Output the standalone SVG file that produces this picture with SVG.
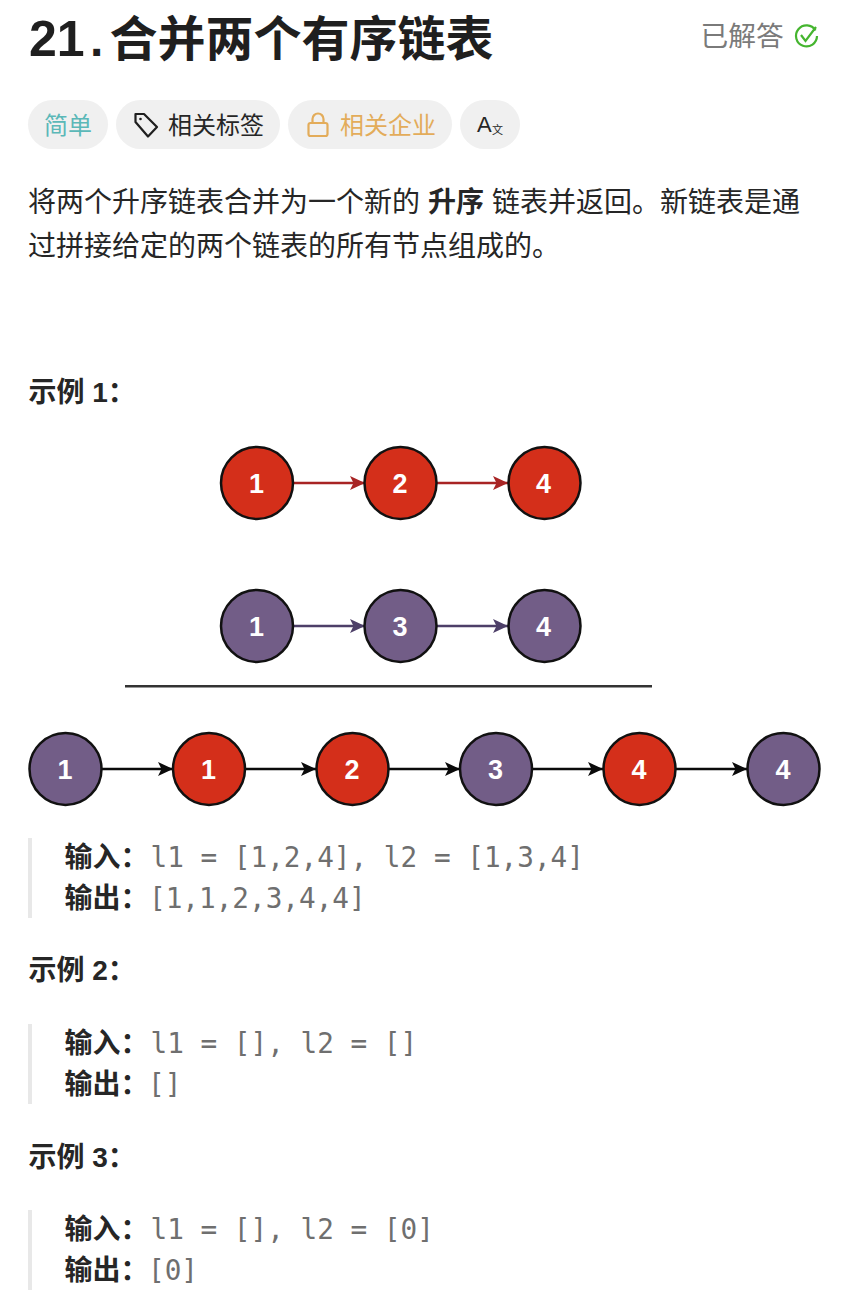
<svg xmlns="http://www.w3.org/2000/svg" width="844" height="1290" viewBox="0 0 844 1290">
<style>
text{font-family:"Liberation Sans","Noto Sans CJK SC",sans-serif;fill:#262626}
.t{font-size:28px}
.b{font-size:28px;font-weight:700}
.m{font-family:"DejaVu Sans Mono","Noto Sans CJK SC",monospace;font-size:27.7px;fill:#6f6f6f}
.pill{fill:#f0f0f0}
.p{font-size:24px}
.bar{fill:#e8e8e8}
.red circle{fill:#d42f1a;stroke:#111;stroke-width:2.5}
.pur circle{fill:#725d87;stroke:#111;stroke-width:2.5}
.n{font-size:27px;font-weight:700;fill:#fff;text-anchor:middle}
.cr{stroke:#a82424;stroke-width:2.5;fill:none;marker-end:url(#ar)}
.cp{stroke:#4d3f68;stroke-width:2.5;fill:none;marker-end:url(#ap)}
.ck{stroke:#0a0a0a;stroke-width:2.5;fill:none;marker-end:url(#ak)}
</style>
<defs>
<marker id="ar" markerUnits="userSpaceOnUse" markerWidth="16" markerHeight="16" refX="15" refY="8" orient="auto"><path d="M0 1L15 8L0 15L3.500 8Z" fill="#a82424"/></marker>
<marker id="ap" markerUnits="userSpaceOnUse" markerWidth="16" markerHeight="16" refX="15" refY="8" orient="auto"><path d="M0 1L15 8L0 15L3.500 8Z" fill="#4d3f68"/></marker>
<marker id="ak" markerUnits="userSpaceOnUse" markerWidth="16" markerHeight="16" refX="15" refY="8" orient="auto"><path d="M0 1L15 8L0 15L3.500 8Z" fill="#0a0a0a"/></marker>
</defs>
<rect width="844" height="1290" fill="#fff"/>
<g id="header">
<text x="29" y="56" font-size="50" font-weight="700" style="fill:#1f1f1f">21</text>
<text x="90" y="56" font-size="48" font-weight="700" style="fill:#1f1f1f">.</text>
<text x="109.500" y="56" font-size="48" font-weight="700" style="fill:#1f1f1f">合并两个有序链表</text>
<text x="700.500" y="46" font-size="27.700" style="fill:#7a7a7a">已解答</text>
<path d="M815.500 30.500A10.500 10.500 0 1 0 817 36" fill="none" stroke="#45b52f" stroke-width="2.200"/>
<path d="M801 35L805.500 41L816 27" fill="none" stroke="#45b52f" stroke-width="2.200"/>
</g>
<g id="tags">
<rect class="pill" x="28" y="100" width="80" height="49" rx="24.500"/>
<text class="p" x="44" y="134" style="fill:#5bb8b8">简单</text>
<rect class="pill" x="116" y="100" width="164" height="49" rx="24.500"/>
<path d="M135.500 114V122L148 136.500L157 127L144 114Z" fill="none" stroke="#1f1f1f" stroke-width="2.200" stroke-linejoin="round"/>
<circle cx="140.500" cy="119" r="1.300" fill="#1f1f1f"/>
<text class="p" x="168" y="134">相关标签</text>
<rect class="pill" x="288" y="100" width="164" height="49" rx="24.500"/>
<rect x="308.500" y="123" width="19" height="13" rx="2" fill="none" stroke="#e3ac5a" stroke-width="2.200"/>
<path d="M312.500 123V119A5.500 5.500 0 0 1 323.500 119V123" fill="none" stroke="#e3ac5a" stroke-width="2.200"/>
<text class="p" x="340" y="134" style="fill:#e3ac5a">相关企业</text>
<rect class="pill" x="460" y="100" width="60" height="49" rx="24.500"/>
<text x="477" y="132" font-size="22">A</text>
<text x="492" y="134" font-size="11">文</text>
</g>
<g id="description">
<text class="t" x="28" y="212">将两个升序链表合并为一个新的</text>
<text class="b" x="428" y="212">升序</text>
<text class="t" x="492" y="212">链表并返回。新链表是通</text>
<text class="t" x="28" y="256">过拼接给定的两个链表的所有节点组成的。</text>
</g>
<text class="b" x="28.500" y="402">示例 1：</text>
<g id="connectors">
<path class="cr" d="M293 483H365"/><path class="cr" d="M437 483H508"/>
<path class="cp" d="M293 626H365"/><path class="cp" d="M437 626H508"/>
<path class="ck" d="M101 769H173"/><path class="ck" d="M245 769H316"/><path class="ck" d="M388 769H460"/><path class="ck" d="M532 769H603"/><path class="ck" d="M675 769H747"/>
</g>
<g id="n-a1" class="red"><circle cx="257" cy="483" r="36"/><text class="n" x="256.500" y="492.500">1</text></g>
<g id="n-a2" class="red"><circle cx="400.500" cy="483" r="36"/><text class="n" x="400" y="492.500">2</text></g>
<g id="n-a3" class="red"><circle cx="544.500" cy="483" r="36"/><text class="n" x="543.500" y="492.500">4</text></g>
<g id="n-b1" class="pur"><circle cx="257" cy="626" r="36"/><text class="n" x="256.500" y="635.500">1</text></g>
<g id="n-b2" class="pur"><circle cx="400.500" cy="626" r="36"/><text class="n" x="400" y="635.500">3</text></g>
<g id="n-b3" class="pur"><circle cx="544.500" cy="626" r="36"/><text class="n" x="543.500" y="635.500">4</text></g>
<rect id="divider" x="125" y="685" width="527" height="2.500" fill="#333"/>
<g id="n-c1" class="pur"><circle cx="65.500" cy="769" r="36"/><text class="n" x="65" y="778.500">1</text></g>
<g id="n-c2" class="red"><circle cx="209" cy="769" r="36"/><text class="n" x="208.500" y="778.500">1</text></g>
<g id="n-c3" class="red"><circle cx="352.500" cy="769" r="36"/><text class="n" x="352" y="778.500">2</text></g>
<g id="n-c4" class="pur"><circle cx="496" cy="769" r="36"/><text class="n" x="495.500" y="778.500">3</text></g>
<g id="n-c5" class="red"><circle cx="639.500" cy="769" r="36"/><text class="n" x="639" y="778.500">4</text></g>
<g id="n-c6" class="pur"><circle cx="783.500" cy="769" r="36"/><text class="n" x="783" y="778.500">4</text></g>
<g id="example1">
<rect class="bar" x="28" y="838" width="4" height="80"/>
<text class="b" x="64.500" y="867">输入：</text><text class="m" x="150.500" y="867">l1 = [1,2,4], l2 = [1,3,4]</text>
<text class="b" x="64.500" y="908">输出：</text><text class="m" x="149" y="908">[1,1,2,3,4,4]</text>
</g>
<text class="b" x="28.500" y="980">示例 2：</text>
<g id="example2">
<rect class="bar" x="28" y="1024" width="4" height="80"/>
<text class="b" x="64.500" y="1053">输入：</text><text class="m" x="150.500" y="1053">l1 = [], l2 = []</text>
<text class="b" x="64.500" y="1094">输出：</text><text class="m" x="148" y="1094">[]</text>
</g>
<text class="b" x="28.500" y="1167">示例 3：</text>
<g id="example3">
<rect class="bar" x="28" y="1210" width="4" height="80"/>
<text class="b" x="64.500" y="1239">输入：</text><text class="m" x="150.500" y="1239">l1 = [], l2 = [0]</text>
<text class="b" x="64.500" y="1280">输出：</text><text class="m" x="148" y="1280">[0]</text>
</g>
</svg>
